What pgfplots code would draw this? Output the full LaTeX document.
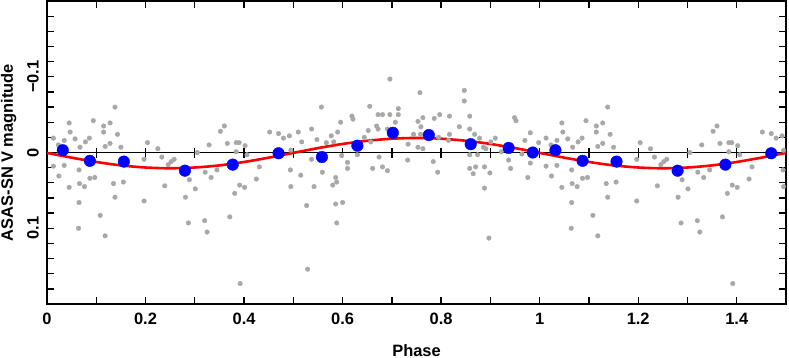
\documentclass[border=0pt]{standalone}
\usepackage{fontspec}
\setmainfont{Liberation Sans}
\usepackage{pgfplots}
\pgfplotsset{compat=1.18}
\usepackage{pgfplotstable}

\definecolor{ptgray}{RGB}{168,168,168}

% individual measurements, phase 0..1 (repeated at +1)
\pgfplotstableread{
p m
0.138 -0.060
0.045 -0.039
0.094 -0.042
0.115 -0.035
0.128 -0.039
0.047 -0.027
0.115 -0.027
0.143 -0.024
0.013 -0.019
0.057 -0.018
0.086 -0.019
0.035 -0.016
0.067 -0.007
0.078 -0.014
0.023 -0.010
0.128 -0.012
0.118 -0.008
0.150 -0.007
0.204 -0.013
0.225 -0.005
0.197 0.009
0.233 0.006
0.246 0.016
0.013 0.018
0.035 0.017
0.065 0.023
0.024 0.031
0.087 0.034
0.097 0.033
0.066 0.041
0.076 0.045
0.045 0.046
0.135 0.041
0.155 0.039
0.239 0.044
0.138 0.059
0.065 0.066
0.197 0.064
0.108 0.083
0.064 0.100
0.118 0.110
0.360 -0.035
0.352 -0.028
0.452 -0.027
0.470 -0.025
0.480 -0.019
0.492 -0.022
0.329 -0.010
0.366 -0.012
0.384 -0.013
0.390 -0.013
0.402 -0.009
0.258 0.009
0.252 0.012
0.305 0.000
0.384 -0.001
0.406 0.003
0.495 -0.003
0.431 0.019
0.494 0.023
0.321 0.026
0.345 0.023
0.333 0.033
0.425 0.035
0.289 0.036
0.301 0.048
0.281 0.059
0.391 0.043
0.401 0.046
0.381 0.054
0.495 0.045
0.371 0.085
0.287 0.093
0.320 0.090
0.325 0.105
0.392 0.173
0.696 -0.097
0.557 -0.060
0.655 -0.061
0.619 -0.048
0.621 -0.044
0.596 -0.040
0.672 -0.050
0.681 -0.050
0.696 -0.050
0.713 -0.058
0.713 -0.050
0.707 -0.040
0.669 -0.035
0.672 -0.031
0.691 -0.031
0.652 -0.029
0.537 -0.031
0.510 -0.027
0.590 -0.027
0.577 -0.022
0.548 -0.017
0.517 -0.014
0.567 -0.013
0.582 -0.014
0.644 -0.020
0.657 -0.014
0.733 -0.011
0.744 -0.024
0.537 0.009
0.598 0.004
0.630 0.003
0.674 0.006
0.732 0.010
0.610 0.013
0.610 0.021
0.661 0.021
0.681 0.019
0.691 0.024
0.559 0.026
0.515 0.030
0.586 0.033
0.588 0.039
0.580 0.043
0.542 0.045
0.527 0.070
0.586 0.068
0.600 0.066
0.588 0.093
0.529 0.154
0.757 -0.079
0.847 -0.082
0.847 -0.068
0.763 -0.046
0.753 -0.041
0.759 -0.034
0.786 -0.045
0.797 -0.050
0.817 -0.048
0.858 -0.048
0.837 -0.034
0.858 -0.031
0.868 -0.024
0.758 -0.024
0.817 -0.024
0.815 -0.016
0.795 -0.020
0.878 -0.019
0.910 -0.019
0.901 -0.014
0.949 -0.046
0.952 -0.042
0.981 -0.026
0.970 -0.016
0.998 -0.013
0.753 -0.007
0.763 -0.005
0.886 -0.007
0.891 -0.005
0.922 -0.001
0.874 0.003
0.858 0.003
0.964 0.002
0.937 0.010
0.941 0.021
0.981 0.014
0.784 0.012
0.793 0.026
0.858 0.021
0.870 0.019
0.865 0.028
0.888 0.019
0.899 0.027
0.976 0.033
0.888 0.047
0.897 0.113
}\graydata

% binned means
\pgfplotstableread{
p m
0.032 -0.003
0.087 0.011
0.156 0.012
0.280 0.024
0.377 0.016
0.470 0.001
0.558 0.006
0.630 -0.009
0.702 -0.026
0.775 -0.023
0.860 -0.011
0.937 -0.006
0.986 0.000
}\bluedata

\begin{document}
\begin{tikzpicture}
\begin{axis}[
    scale only axis, width=739bp, height=303bp,
    xmin=0, xmax=1.5, ymin=-0.2, ymax=0.2, y dir=reverse,
    xtick={0,0.2,0.4,0.6,0.8,1,1.2,1.4},
    xticklabels={0,0.2,0.4,0.6,0.8,1,1.2,1.4},
    minor xtick={0.1,0.3,0.5,0.7,0.9,1.1,1.3},
    ytick={-0.1,0,0.1},
    yticklabels={−0.1,0,0.1},
    minor ytick={-0.18,-0.16,-0.14,-0.12,-0.08,-0.06,-0.04,-0.02,0.02,0.04,0.06,0.08,0.12,0.14,0.16,0.18},
    tick align=inside, xtick pos=both, ytick pos=both,
    major tick length=7bp, minor tick length=7bp,
    every tick/.style={black, line width=1.3bp},
    axis line style={line width=1.3bp},
    every tick label/.append style={font=\fontsize{16.5}{19}\selectfont\bfseries},
    label style={font=\fontsize{16.5}{19}\selectfont\bfseries},
    xticklabel style={anchor=north, inner sep=0pt, yshift=-9bp},
    yticklabel style={xshift=-8bp, rotate=90, anchor=south, inner sep=0pt},
    xlabel={Phase},
    xlabel style={at={([yshift=-52bp]axis description cs:0.5,0)}, anchor=base, inner sep=0pt},
    ylabel={ASAS-SN V magnitude},
    ylabel style={at={([xshift=-34bp]axis description cs:0,0.5)}, rotate=0, anchor=base, inner sep=0pt},
]
\addplot[only marks, mark=*, mark size=2.3bp, ptgray] table[x=p, y=m] {\graydata};
\addplot[only marks, mark=*, mark size=2.3bp, ptgray] table[x expr=\thisrow{p}+1, y=m] {\graydata};

\addplot[black, line width=1.3bp] coordinates {(0,0) (1.5,0)};
\pgfplotsinvokeforeach{0.1,0.2,0.3,0.4,0.5,0.6,0.7,0.8,0.9,1.0,1.1,1.2,1.3,1.4}{
  \draw[black, line width=1.3bp] ([yshift=-5bp]axis cs:#1,0) -- ([yshift=5bp]axis cs:#1,0);
}

\addplot[red, line width=2.6bp, smooth] coordinates {
  (0.00,0.0005) (0.05,0.0068) (0.10,0.0125) (0.15,0.0170) (0.20,0.0198) (0.25,0.0208)
  (0.30,0.0198) (0.35,0.0170) (0.40,0.0125) (0.45,0.0068) (0.50,0.0005)
  (0.55,-0.0058) (0.60,-0.0113) (0.65,-0.0155) (0.70,-0.0182) (0.75,-0.0192)
  (0.80,-0.0182) (0.85,-0.0155) (0.90,-0.0113) (0.95,-0.0058) (1.00,0.0005)
  (1.05,0.0068) (1.10,0.0125) (1.15,0.0170) (1.20,0.0198) (1.25,0.0208)
  (1.30,0.0198) (1.35,0.0170) (1.40,0.0125) (1.45,0.0068) (1.50,0.0005)
};

\addplot[only marks, mark=*, mark size=5.8bp, blue] table[x=p, y=m] {\bluedata};
\addplot[only marks, mark=*, mark size=5.8bp, blue] table[x expr=\thisrow{p}+1, y=m] {\bluedata};
\end{axis}
\pgfresetboundingbox
\path ([shift={(-47bp,-54bp)}]current axis.south west) rectangle ([shift={(3bp,1bp)}]current axis.north east);
\end{tikzpicture}
\end{document}
